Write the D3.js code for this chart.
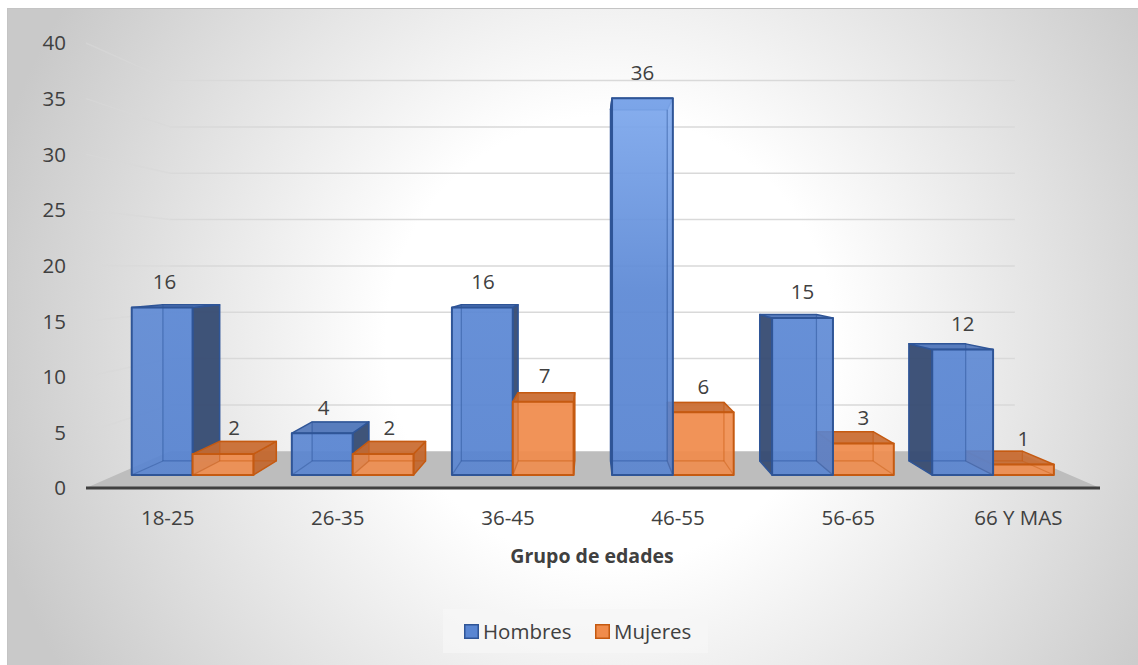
<!DOCTYPE html>
<html lang="es">
<head>
<meta charset="utf-8">
<style>
  body { margin: 0; padding: 0; background: #ffffff; }
  svg { display: block; font-family: "Open Sans", "Noto Sans", sans-serif; }
  .tick { fill: #404040; font-size: 20.5px; }
  .cat { fill: #404040; font-size: 20.5px; }
  .lbl { fill: #404040; font-size: 20.5px; }
</style>
</head>
<body>
<svg id="chart" width="1138" height="665"></svg>
<script src="https://cdn.jsdelivr.net/npm/d3@7"></script>
<script>
// datos
var categories = ['18-25', '26-35', '36-45', '46-55', '56-65', '66 Y MAS'];
var hombres = [16, 4, 16, 36, 15, 12];
var mujeres = [2, 2, 7, 6, 3, 1];
var seriesNames = ['Hombres', 'Mujeres'];
var yTicks = [0, 5, 10, 15, 20, 25, 30, 35, 40];

var svg = d3.select('#chart');
var W = 1138, H = 665;

// perspectiva: punto de fuga y escalas de profundidad
var vx = 590, vy = 268;
var sFront = 1, sBarF = 0.941, sBarB = 0.877, sWall = 0.833;

var yF = d3.scaleLinear().domain([0, 40]).range([488, 43]);
var xF = d3.scaleBand().domain(categories).range([86, 1100]).paddingInner(0.24).paddingOuter(0.1);
var xS = d3.scaleBand().domain(seriesNames).range([0, xF.bandwidth()]);

function P(X, v, s) {
  return [vx + (X - vx) * s, vy + (yF(v) - vy) * s];
}
function poly(pts) { return 'M' + pts.map(function(p){ return p[0] + ',' + p[1]; }).join('L') + 'Z'; }

// fondo
var defs = svg.append('defs');
var rg = defs.append('radialGradient').attr('id', 'bg')
  .attr('gradientUnits', 'userSpaceOnUse')
  .attr('cx', 610).attr('cy', 340).attr('r', 640);
rg.append('stop').attr('offset', '0').attr('stop-color', '#ffffff');
rg.append('stop').attr('offset', '0.35').attr('stop-color', '#ffffff');
rg.append('stop').attr('offset', '1').attr('stop-color', '#c9c9c9');

// luz sobre las caras frontales azules (mas claras arriba)
var lg = defs.append('linearGradient').attr('id', 'hFront')
  .attr('gradientUnits', 'userSpaceOnUse')
  .attr('x1', 0).attr('y1', 488).attr('x2', 0).attr('y2', 98);
lg.append('stop').attr('offset', '0').attr('stop-color', '#5783d0');
lg.append('stop').attr('offset', '0.5').attr('stop-color', '#5d89d5');
lg.append('stop').attr('offset', '1').attr('stop-color', '#80aaee');

svg.append('rect').attr('x', 7.5).attr('y', 8.5).attr('width', W).attr('height', H)
  .attr('fill', 'url(#bg)').attr('stroke', '#c4c4c4').attr('stroke-width', 1);

// lineas de cuadricula (pared lateral + pared de fondo)
var grid = svg.append('g');
yTicks.filter(function(v){ return v > 0; }).forEach(function(v) {
  var a = P(86, v, sFront), b = P(86, v, sWall), c = P(1100, v, sWall);
  grid.append('line').attr('x1', a[0]).attr('y1', a[1]).attr('x2', b[0]).attr('y2', b[1])
    .attr('stroke', '#d9d9d9').attr('stroke-width', 1.5).attr('opacity', 0.6);
  grid.append('line').attr('x1', b[0]).attr('y1', b[1]).attr('x2', c[0]).attr('y2', c[1])
    .attr('stroke', '#d9d9d9').attr('stroke-width', 1.5);
});

// piso
svg.append('path')
  .attr('d', poly([P(86, 0, sFront), P(1100, 0, sFront), P(1100, 0, sWall), P(86, 0, sWall)]))
  .attr('fill', '#bdbdbd');
svg.append('line').attr('x1', 86).attr('x2', 1100).attr('y1', yF(0)).attr('y2', yF(0))
  .attr('stroke', '#404040').attr('stroke-width', 3);

// eje Y
svg.append('g').selectAll('text').data(yTicks).enter().append('text')
  .attr('class', 'tick')
  .attr('x', 66).attr('y', function(d){ return yF(d); })
  .attr('dy', '0.36em').attr('text-anchor', 'end')
  .text(function(d){ return d; });

var styles = {
  Hombres: { front: '#5a86d2', frontFill: 'url(#hFront)', top: '#4c73b8', side: '#34496f', stroke: '#2f5597', lblShift: 0.08 },
  Mujeres: { front: '#f08c4c', frontFill: '#f08c4c', top: '#c86a30', side: '#c2662c', stroke: '#c55a11', lblShift: 0.45 }
};

var bars = [];
categories.forEach(function(c, i) {
  [hombres[i], mujeres[i]].forEach(function(v, j) {
    var name = seriesNames[j];
    var X0 = xF(c) + xS(name), X1 = X0 + xS.bandwidth();
    bars.push({ cat: c, name: name, v: v, X0: X0, X1: X1 });
  });
});

// orden de pintado: desde los extremos hacia el punto de fuga
var ordered = bars.slice().sort(function(a, b) {
  var da = Math.abs((a.X0 + a.X1) / 2 - vx), db = Math.abs((b.X0 + b.X1) / 2 - vx);
  return db - da;
});

var gBars = svg.append('g');
ordered.forEach(function(b) {
  var st = styles[b.name];
  var g = gBars.append('g');
  var v = b.v;
  var backFace = [P(b.X0, 0, sBarB), P(b.X1, 0, sBarB), P(b.X1, v, sBarB), P(b.X0, v, sBarB)];
  var frontFace = [P(b.X0, 0, sBarF), P(b.X1, 0, sBarF), P(b.X1, v, sBarF), P(b.X0, v, sBarF)];
  var sideX = (b.X1 < vx) ? b.X1 : b.X0;
  var side = [P(sideX, 0, sBarF), P(sideX, v, sBarF), P(sideX, v, sBarB), P(sideX, 0, sBarB)];
  var top = [P(b.X0, v, sBarF), P(b.X1, v, sBarF), P(b.X1, v, sBarB), P(b.X0, v, sBarB)];
  var showSide = (b.X1 < vx) || (b.X0 > vx);

  g.append('path').attr('d', poly(backFace)).attr('fill', st.front).attr('fill-opacity', 0.35)
    .attr('stroke', st.stroke).attr('stroke-width', 1.2).attr('stroke-opacity', 0.6);
  if (showSide) {
    g.append('path').attr('d', poly(side)).attr('fill', st.side).attr('fill-opacity', 0.92)
      .attr('stroke', st.stroke).attr('stroke-width', 1.5).attr('stroke-linejoin', 'round');
  }
  g.append('path').attr('d', poly(top)).attr('fill', st.top).attr('fill-opacity', 0.9)
    .attr('stroke', st.stroke).attr('stroke-width', 1.5).attr('stroke-linejoin', 'round');
  g.append('path').attr('d', poly(frontFace)).attr('fill', st.frontFill).attr('fill-opacity', 0.9)
    .attr('stroke', st.stroke).attr('stroke-width', 2).attr('stroke-linejoin', 'round');
  // aristas interiores vistas por transparencia
  var bb0 = P(b.X0, 0, sBarB), bb1 = P(b.X1, 0, sBarB), ff0 = P(b.X0, 0, sBarF), ff1 = P(b.X1, 0, sBarF);
  var inner = (b.X1 < vx) ? [[ff0, bb0], [bb0, P(b.X0, v, sBarB)], [bb0, bb1]]
                          : [[ff1, bb1], [bb1, P(b.X1, v, sBarB)], [bb0, bb1]];
  inner.forEach(function(s) {
    g.append('line').attr('x1', s[0][0]).attr('y1', s[0][1]).attr('x2', s[1][0]).attr('y2', s[1][1])
      .attr('stroke', st.stroke).attr('stroke-width', 1.2).attr('stroke-opacity', 0.45);
  });
});

// etiquetas de datos
svg.append('g').selectAll('text').data(bars).enter().append('text')
  .attr('class', 'lbl')
  .attr('text-anchor', 'middle')
  .attr('x', function(b) {
    var cx = (b.X0 + b.X1) / 2;
    var f = P(cx, b.v, sBarF)[0], k = P(cx, b.v, sBarB)[0];
    return f + Math.max(0, k - f) * styles[b.name].lblShift;
  })
  .attr('y', function(b){ return P((b.X0 + b.X1) / 2, b.v, sBarF)[1] - 26; })
  .attr('dy', '0.36em')
  .text(function(b){ return b.v; });

// etiquetas de categorias
svg.append('g').selectAll('text').data(categories).enter().append('text')
  .attr('class', 'cat')
  .attr('text-anchor', 'middle')
  .attr('x', function(c){ return xF(c) + xF.bandwidth() / 2; })
  .attr('y', 518).attr('dy', '0.36em')
  .text(function(c){ return c; });

svg.append('text').attr('x', 592).attr('y', 556).attr('dy', '0.36em')
  .attr('text-anchor', 'middle').attr('fill', '#404040')
  .attr('font-size', 19.5).attr('font-weight', 'bold')
  .text('Grupo de edades');

// leyenda
var leg = svg.append('g');
leg.append('rect').attr('x', 443).attr('y', 609).attr('width', 265).attr('height', 44)
  .attr('fill', '#f6f6f6').attr('fill-opacity', 0.7);
var legX = [464, 595];
seriesNames.forEach(function(n, i) {
  leg.append('rect').attr('x', legX[i] + 0.75).attr('y', 624.75).attr('width', 13.5).attr('height', 13.5)
    .attr('fill', styles[n].front).attr('stroke', styles[n].stroke).attr('stroke-width', 1.5);
  leg.append('text').attr('x', legX[i] + 19).attr('y', 632).attr('dy', '0.36em')
    .attr('fill', '#404040').attr('font-size', 20.5).text(n);
});
</script>
</body>
</html>
